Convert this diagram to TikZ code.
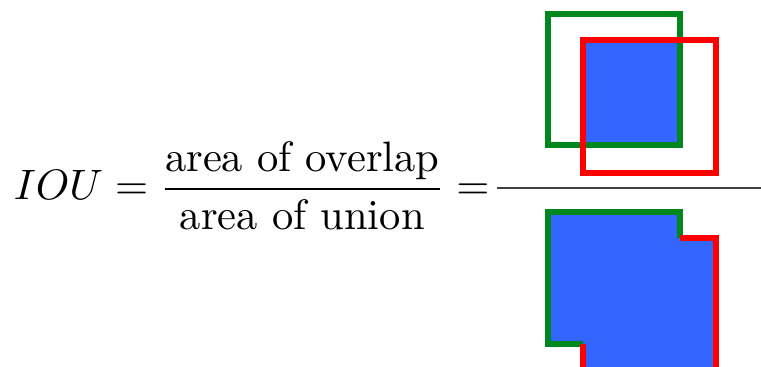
\documentclass[tikz,border=0pt]{standalone}
\usepackage{amsmath}
\usetikzlibrary{positioning}
\definecolor{boxgreen}{RGB}{0,135,30}
\definecolor{boxred}{RGB}{255,0,0}
\definecolor{boxblue}{RGB}{51,102,255}

\begin{document}
\begin{tikzpicture}[
  x=0.235pt, y=-0.235pt,
  eqn/.style={inner sep=0pt, anchor=base west},
  gbox/.style={draw=boxgreen, line width=1.2pt},
  rbox/.style={draw=boxred, line width=1.2pt},
  area/.style={fill=boxblue},
  bar/.style={draw=black!75, line width=0.5pt}
]
\useasboundingbox (0,0) rectangle (761,367);
\clip (0,0) rectangle (761,367);
\node[eqn] (iou) at (13,200) {$IOU = \dfrac{\text{area of overlap}}{\text{area of union}} =$};
\coordinate (bar-l) at (497,188);
\coordinate (bar-r) at (761,188);
\draw[bar] (bar-l) -- (bar-r);
% overlap
\fill[area] (583,40) rectangle (680,145);
\draw[gbox] (548,14) rectangle (680,145);
\draw[rbox] (583,40) rectangle (716,173);
% union
\fill[area] (548,212) -| (680,238) -| (716,372) -| (583,344) -| cycle;
\draw[gbox] (680,238) |- (548,212) |- (583,344);
\draw[rbox] (680,238) -| (716,372) (583,344) -- (583,372);
\end{tikzpicture}
\end{document}
